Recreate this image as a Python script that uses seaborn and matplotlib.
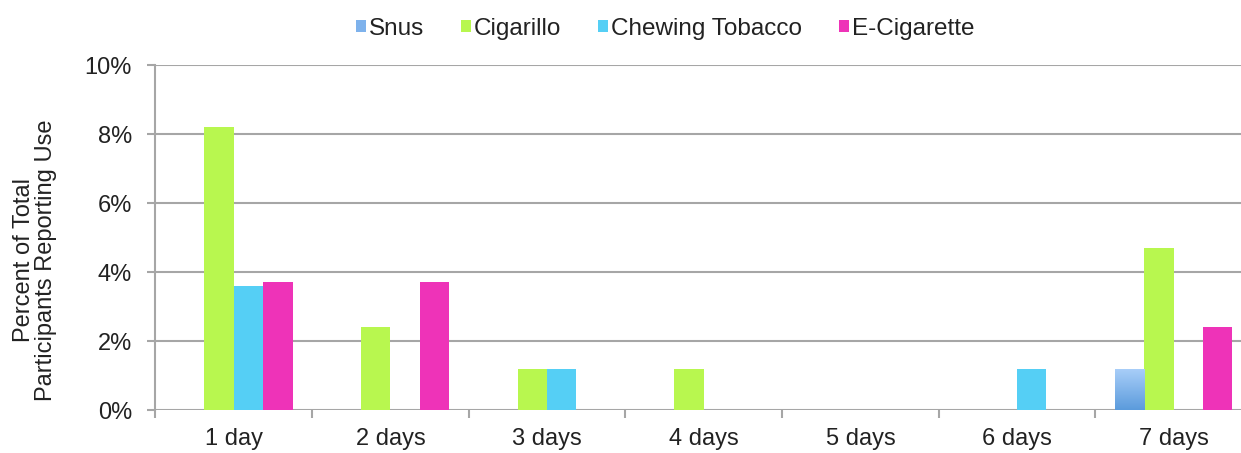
import numpy as np
import pandas as pd
import matplotlib
matplotlib.use("Agg")
import matplotlib.pyplot as plt
import seaborn as sns
from matplotlib.ticker import FuncFormatter, FixedLocator
from matplotlib.patches import Patch

days = ["1 day", "2 days", "3 days", "4 days", "5 days", "6 days", "7 days"]
products = ["Snus", "Cigarillo", "Chewing Tobacco", "E-Cigarette"]
snus = [0, 0, 0, 0, 0, 0, 1.2]
cigarillo = [8.2, 2.4, 1.2, 1.2, 0, 0, 4.7]
chewing = [3.6, 0, 1.2, 0, 0, 1.2, 0]
ecig = [3.7, 3.7, 0, 0, 0, 0, 2.4]
colors = ["#7eb2ec", "#b8f74f", "#55cff5", "#ee33b8"]

df = pd.DataFrame({
    "day": days * 4,
    "product": [p for p in products for _ in days],
    "pct": snus + cigarillo + chewing + ecig,
})

sns.set_style("white")
plt.rcParams["font.family"] = ["Liberation Sans", "DejaVu Sans"]

fig = plt.figure(figsize=(12.41, 4.53), dpi=100)
# plot area runs a little past the right edge of the image, like the original
ax = fig.add_axes([0.1253, 0.0949, 0.8836, 0.7616])

sns.barplot(data=df, x="day", y="pct", hue="product", order=days,
            hue_order=products, palette=colors, width=0.75, gap=0,
            saturation=1, ax=ax, legend=False, zorder=3, linewidth=0)

# gradient for the snus bars
grad = np.linspace(0, 1, 256).reshape(-1, 1)
cmap = matplotlib.colors.LinearSegmentedColormap.from_list("snus", ["#5b9bdc", "#aacff9"])
for bar in ax.containers[0]:
    h = bar.get_height()
    if h > 0:
        x0 = bar.get_x()
        w = bar.get_width()
        im = ax.imshow(grad, extent=[x0, x0 + w, 0, h], origin="lower", cmap=cmap,
                       aspect="auto", zorder=4)
        im.set_clip_path(bar)

ax.set_xlim(-0.5, 6.5)
ax.set_ylim(0, 10)
ax.yaxis.set_major_locator(FixedLocator([0, 2, 4, 6, 8, 10]))
ax.yaxis.set_major_formatter(FuncFormatter(lambda v, p: f"{v:.0f}%"))
ax.grid(axis="y", color="#a6a6a6", linewidth=1.5, zorder=0)
ax.set_axisbelow(True)

for s in ["top", "right", "bottom"]:
    ax.spines[s].set_visible(False)
ax.spines["left"].set_color("#a6a6a6")
ax.spines["left"].set_linewidth(1.5)

ax.tick_params(axis="y", which="major", direction="out", length=6, width=1.5,
               color="#a6a6a6", labelsize=17, labelcolor="#222222", pad=11, left=True)
ax.tick_params(axis="x", which="major", length=0, labelsize=17, labelcolor="#222222", pad=13)
ax.set_xticks(np.arange(-0.5, 7, 1), minor=True)
ax.tick_params(axis="x", which="minor", direction="out", length=6, width=1.5,
               color="#a6a6a6", bottom=True)

ax.set_xlabel("")
ax.set_ylabel("Percent of Total\nParticipants Reporting Use", fontsize=17,
              color="#222222", labelpad=20, linespacing=1.0)
ax.yaxis.label.set_y(0.435)

handles = [Patch(facecolor=c, edgecolor="none") for c in colors]
fig.legend(handles, products, loc="center", bbox_to_anchor=(0.536, 0.937), ncol=4,
           frameon=False, fontsize=17.5, handlelength=0.42, handleheight=0.42,
           handletextpad=0.12, columnspacing=1.5, labelcolor="#222222")

fig.savefig("out.png", dpi=100)
